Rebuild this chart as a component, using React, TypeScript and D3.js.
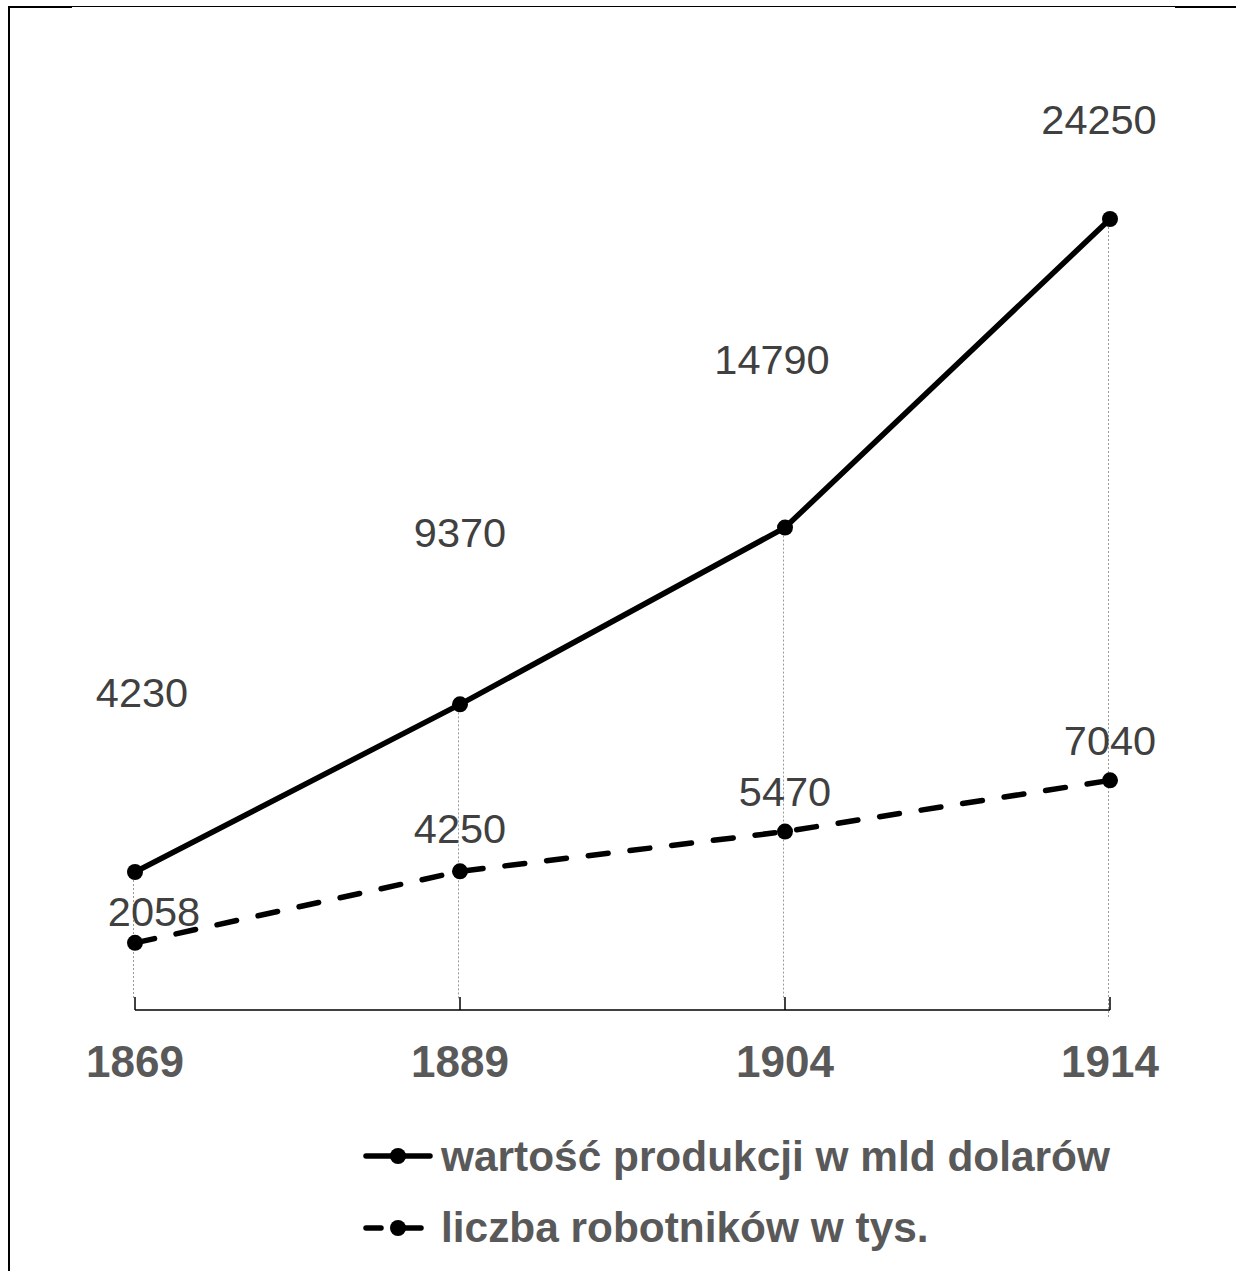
import React from 'react';
import * as d3 from 'd3';

const YEARS = ['1869', '1889', '1904', '1914'];
const PRODUCTION = [4230, 9370, 14790, 24250];
const WORKERS = [2058, 4250, 5470, 7040];
const SERIES_NAMES = ['wartość produkcji w mld dolarów', 'liczba robotników w tys.'];

// hand-placed label offsets (dx, dy from the point to the label baseline)
const PROD_LABEL_OFFSETS: [number, number][] = [[7, -165], [0, -157], [-13, -154], [-11, -85]];
const WORK_LABEL_OFFSETS: [number, number][] = [[19, -17], [0, -28], [0, -26], [0, -25]];

const W = 1236;
const H = 1271;
const LABEL_COLOR = '#404040';
const AXIS_TEXT = '#595959';
const FONT = 'Arial, "Liberation Sans", sans-serif';
const LINE_W = 5.5;
const DOT_R = 8;

const App: React.FC = () => {
  const x = d3.scalePoint<string>().domain(YEARS).range([135, 1110]);
  const y = d3.scaleLinear().domain([0, 24250]).range([1010, 219]);

  const line = d3.line<number>()
    .x((_, i) => x(YEARS[i]) as number)
    .y(v => y(v));

  return (
    <svg width={W} height={H} style={{ position: 'absolute', left: 0, top: 0, background: '#fff' }}>
      {/* frame */}
      <line x1={8} x2={W} y1={6.5} y2={6.5} stroke="#000" strokeWidth={1} />
      <line x1={8} x2={72} y1={7} y2={7} stroke="#000" strokeWidth={2} />
      <line x1={1175} x2={W} y1={7} y2={7} stroke="#000" strokeWidth={2} />
      <line x1={9} x2={9} y1={6} y2={H} stroke="#000" strokeWidth={2} />

      {/* drop lines */}
      {YEARS.map((yr, i) => (
        <line key={yr} x1={(x(yr) as number) - 1.5} x2={(x(yr) as number) - 1.5}
          y1={y(PRODUCTION[i])} y2={i === YEARS.length - 1 ? 1017 : 1000}
          stroke="#9a9a9a" strokeWidth={1} strokeDasharray="2,2" />
      ))}

      {/* x axis */}
      <line x1={x(YEARS[0])} x2={x(YEARS[YEARS.length - 1])} y1={1010} y2={1010} stroke="#000" strokeWidth={1.5} />
      {YEARS.map(yr => (
        <line key={yr} x1={x(yr)} x2={x(yr)} y1={997} y2={1010} stroke="#000" strokeWidth={1.5} />
      ))}
      {YEARS.map(yr => (
        <text key={yr} x={x(yr)} y={1077} textAnchor="middle" fontFamily={FONT} fontWeight="bold"
          fontSize={44} fill={AXIS_TEXT}>{yr}</text>
      ))}

      {/* series */}
      <path d={line(PRODUCTION) ?? ''} fill="none" stroke="#000" strokeWidth={LINE_W} strokeLinejoin="round" />
      <path d={line(WORKERS) ?? ''} fill="none" stroke="#000" strokeWidth={LINE_W} strokeDasharray="20,22"
        strokeLinecap="round" />
      {PRODUCTION.map((v, i) => (
        <circle key={'p' + i} cx={x(YEARS[i])} cy={y(v)} r={DOT_R} fill="#000" />
      ))}
      {WORKERS.map((v, i) => (
        <circle key={'w' + i} cx={x(YEARS[i])} cy={y(v)} r={DOT_R} fill="#000" />
      ))}

      {/* value labels */}
      {PRODUCTION.map((v, i) => (
        <text key={'pl' + i} x={(x(YEARS[i]) as number) + PROD_LABEL_OFFSETS[i][0]}
          y={y(v) + PROD_LABEL_OFFSETS[i][1]} textAnchor="middle" fontFamily={FONT}
          fontSize={41.5} fill={LABEL_COLOR}>{v}</text>
      ))}
      {WORKERS.map((v, i) => (
        <text key={'wl' + i} x={(x(YEARS[i]) as number) + WORK_LABEL_OFFSETS[i][0]}
          y={y(v) + WORK_LABEL_OFFSETS[i][1]} textAnchor="middle" fontFamily={FONT}
          fontSize={41.5} fill={LABEL_COLOR}>{v}</text>
      ))}

      {/* legend */}
      <g>
        <line x1={366} x2={430} y1={1156} y2={1156} stroke="#000" strokeWidth={LINE_W} strokeLinecap="round" />
        <circle cx={398} cy={1156} r={DOT_R} fill="#000" />
        <text x={441} y={1171} fontFamily={FONT} fontWeight="bold" fontSize={42.4} fill={AXIS_TEXT}>{SERIES_NAMES[0]}</text>

        <line x1={366} x2={381} y1={1228} y2={1228} stroke="#000" strokeWidth={LINE_W} strokeLinecap="round" />
        <line x1={394} x2={421} y1={1228} y2={1228} stroke="#000" strokeWidth={LINE_W} strokeLinecap="round" />
        <circle cx={398} cy={1228} r={DOT_R} fill="#000" />
        <text x={441} y={1242} fontFamily={FONT} fontWeight="bold" fontSize={42.4} fill={AXIS_TEXT}>{SERIES_NAMES[1]}</text>
      </g>
    </svg>
  );
};

export default App;
